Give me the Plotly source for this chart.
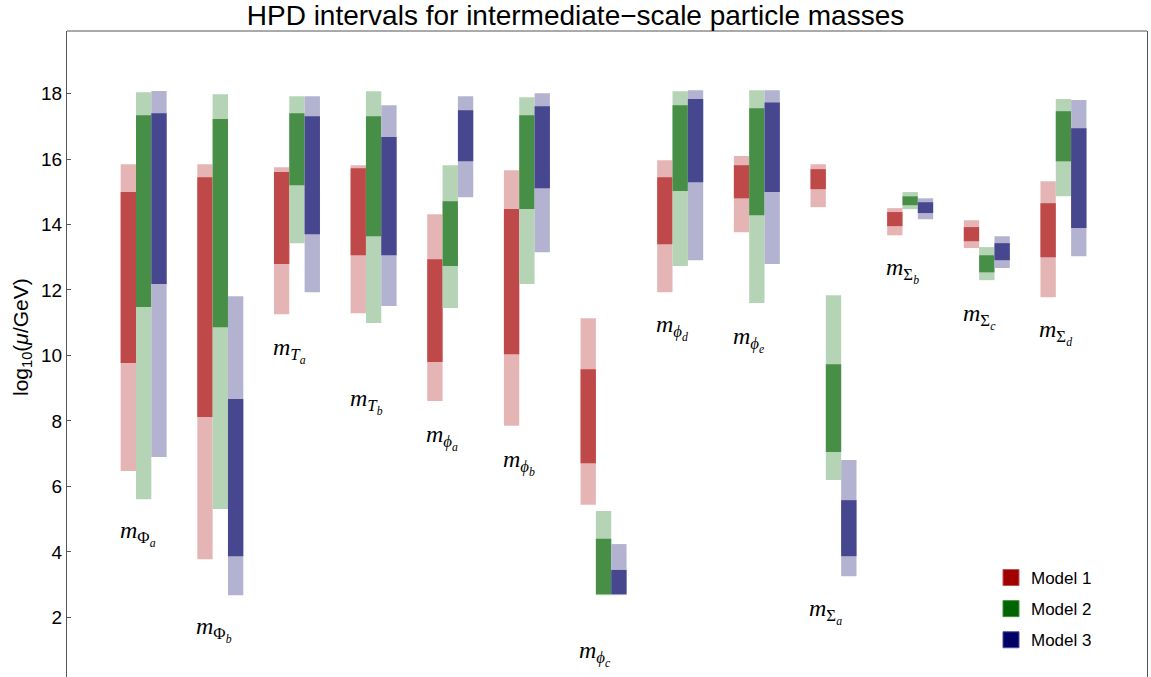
import plotly.graph_objects as go

# particle labels (HTML-styled math)
labels = [
    "<i>m</i><sub>Φ<sub><i>a</i></sub></sub>",
    "<i>m</i><sub>Φ<sub><i>b</i></sub></sub>",
    "<i>m</i><sub><i>T</i><sub><i>a</i></sub></sub>",
    "<i>m</i><sub><i>T</i><sub><i>b</i></sub></sub>",
    "<i>m</i><sub><i>ϕ</i><sub><i>a</i></sub></sub>",
    "<i>m</i><sub><i>ϕ</i><sub><i>b</i></sub></sub>",
    "<i>m</i><sub><i>ϕ</i><sub><i>c</i></sub></sub>",
    "<i>m</i><sub><i>ϕ</i><sub><i>d</i></sub></sub>",
    "<i>m</i><sub><i>ϕ</i><sub><i>e</i></sub></sub>",
    "<i>m</i><sub>Σ<sub><i>a</i></sub></sub>",
    "<i>m</i><sub>Σ<sub><i>b</i></sub></sub>",
    "<i>m</i><sub>Σ<sub><i>c</i></sub></sub>",
    "<i>m</i><sub>Σ<sub><i>d</i></sub></sub>",
]
label_y = [4.55, 1.64, 10.16, 8.6, 7.5, 6.74, 0.91, 10.85, 10.5, 2.17, 12.6, 11.2, 10.7]

# Model 1
m1_outer_hi = [15.84, 15.84, 15.75, 15.81, 14.31, 15.66, 11.14, 15.96, 16.09, 15.84, 14.50, 14.13, 15.32]
m1_inner_hi = [14.99, 15.44, 15.60, 15.72, 12.94, 14.47, 9.58, 15.44, 15.81, 15.69, 14.38, 13.92, 14.65]
m1_inner_lo = [9.77, 8.12, 12.79, 13.06, 9.80, 10.04, 6.71, 13.40, 14.80, 15.08, 13.95, 13.49, 13.00]
m1_outer_lo = [6.47, 3.78, 11.26, 11.29, 8.61, 7.85, 5.44, 11.93, 13.76, 14.53, 13.67, 13.28, 11.78]

# Model 2
m2_outer_hi = [18.04, 17.98, 17.92, 18.07, 15.81, 17.89, 5.25, 18.07, 18.10, 11.84, 14.99, 13.31, 17.83]
m2_inner_hi = [17.34, 17.22, 17.40, 17.31, 14.71, 17.34, 4.40, 17.64, 17.55, 9.73, 14.86, 13.06, 17.46]
m2_inner_lo = [11.48, 10.86, 15.20, 13.64, 12.73, 14.47, 2.71, 15.02, 14.28, 7.05, 14.59, 12.54, 15.93]
m2_outer_lo = [5.61, 5.31, 13.43, 10.99, 11.45, 12.18, 2.68, 12.73, 11.60, 6.20, 14.47, 12.30, 14.86]

# Model 3
m3_outer_hi = [18.08, 11.81, 17.92, 17.64, 17.92, 18.01, 4.24, 18.10, 18.10, 6.81, 14.80, 13.64, 17.80]
m3_inner_hi = [17.40, 8.67, 17.31, 16.67, 17.49, 17.61, 3.45, 17.83, 17.73, 5.58, 14.68, 13.43, 16.94]
m3_inner_lo = [12.18, 3.87, 13.70, 13.06, 15.93, 15.11, 2.71, 15.29, 14.99, 3.87, 14.35, 12.91, 13.89]
m3_outer_lo = [6.90, 2.68, 11.93, 11.51, 14.83, 13.15, 2.68, 12.91, 12.79, 3.26, 14.16, 12.67, 13.03]

model_names = ["Model 1", "Model 2", "Model 3"]
y_ticks = [2, 4, 6, 8, 10, 12, 14, 16, 18]

models = [
    (m1_outer_lo, m1_inner_lo, m1_inner_hi, m1_outer_hi, "#E5B5B5", "#BF4848", "#A00000", "#C05050"),
    (m2_outer_lo, m2_inner_lo, m2_inner_hi, m2_outer_hi, "#B5D3B5", "#478F47", "#006400", "#3F8F3F"),
    (m3_outer_lo, m3_inner_lo, m3_inner_hi, m3_outer_hi, "#B3B3D1", "#47478F", "#000066", "#4F4F9F"),
]

fig = go.Figure()
n = len(labels)
bw = 0.2
for k, (olo, ilo, ihi, ohi, light, dark, leg, legline) in enumerate(models):
    xs = [i + 1 + (k - 1) * bw for i in range(n)]
    fig.add_trace(go.Bar(x=xs, base=olo, y=[h - l for h, l in zip(ohi, olo)], width=bw,
                         marker=dict(color=light, line=dict(width=0)), showlegend=False,
                         hoverinfo="skip"))
    fig.add_trace(go.Bar(x=xs, base=ilo, y=[h - l for h, l in zip(ihi, ilo)], width=bw,
                         marker=dict(color=dark, line=dict(width=0)), showlegend=False,
                         hoverinfo="skip"))
    fig.add_trace(go.Scatter(x=[None], y=[None], mode="markers", name=model_names[k],
                             legendgroup=model_names[k],
                             marker=dict(symbol="square", size=16, color=leg,
                                         line=dict(width=1, color=legline))))

for i, (lab, ly) in enumerate(zip(labels, label_y)):
    fig.add_annotation(x=i + 1 - 0.34, y=ly, text=lab, showarrow=False, xanchor="left",
                       yanchor="middle", font=dict(family="Liberation Serif", size=24, color="black"))

fig.add_annotation(x=(22 - 67) / 1080, y=1 - (337 - 31) / 646, xref="paper", yref="paper",
                   text="log<sub>10</sub>(<i>μ</i>/GeV)", textangle=-90, showarrow=False,
                   xanchor="center", yanchor="middle",
                   font=dict(family="Liberation Sans", size=21, color="black"))

line_col = "#555555"
fig.add_shape(type="line", xref="paper", yref="paper", x0=0, x1=1, y0=1, y1=1,
              line=dict(color=line_col, width=1))

fig.update_layout(
    width=1151, height=677,
    margin=dict(l=67, r=4, t=31, b=0),
    plot_bgcolor="white", paper_bgcolor="white",
    barmode="overlay",
    title=dict(text="HPD intervals for intermediate−scale particle masses", x=0.5, xanchor="center",
               y=1 - 15 / 677, yanchor="middle", yref="container",
               font=dict(family="Liberation Sans", size=28, color="black")),
    xaxis=dict(range=[0, 14.09], visible=False, showgrid=False, zeroline=False),
    yaxis=dict(range=[0.18, 19.91], tickvals=y_ticks, ticks="inside", ticklen=4, tickcolor=line_col,
               showline=True, linecolor=line_col, linewidth=1, mirror=True, showgrid=False,
               zeroline=False, tickfont=dict(family="Liberation Sans", size=19, color="black")),
    legend=dict(x=(991 - 67) / 1080, y=1 - (560 - 31) / 646, xanchor="left", yanchor="top",
                font=dict(family="Liberation Sans", size=17, color="black"), tracegroupgap=6,
                bgcolor="rgba(0,0,0,0)"),
    font=dict(family="Liberation Sans"),
)

fig.write_html("out.html")
